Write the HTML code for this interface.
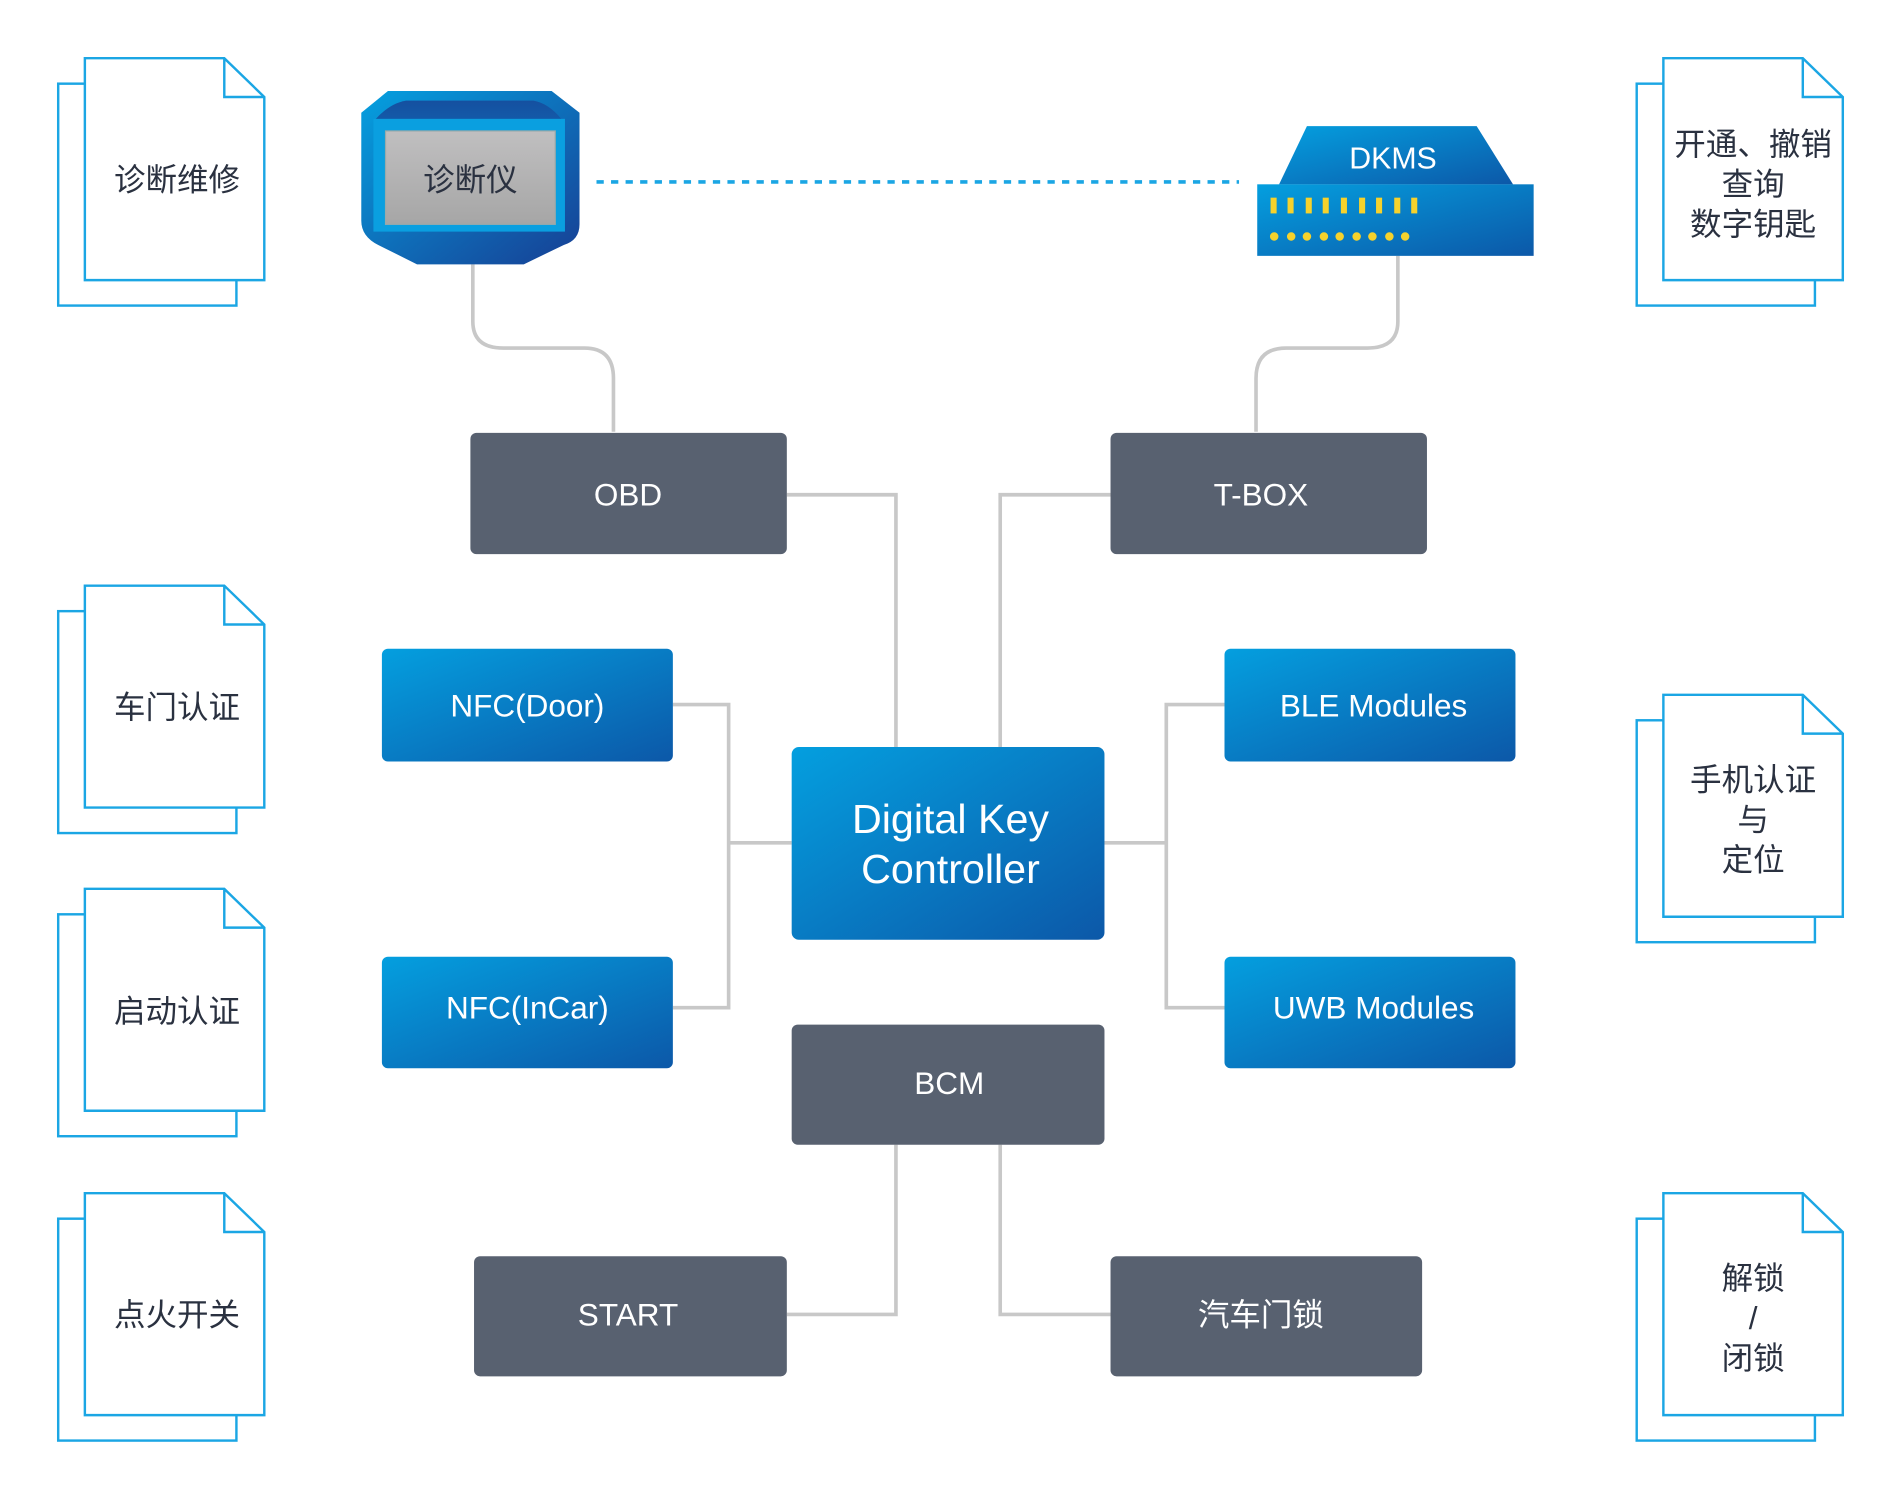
<!DOCTYPE html>
<html><head><meta charset="utf-8"><style>
html,body{margin:0;padding:0;background:#fff;}
svg{display:block;}
text{font-family:"Liberation Sans","Noto Sans CJK SC",sans-serif;}
</style></head><body>
<svg width="1901" height="1500" viewBox="0 0 1568 1237" preserveAspectRatio="none" xmlns="http://www.w3.org/2000/svg">
<defs>
<linearGradient id="bl" x1="0" y1="0" x2="1" y2="1"><stop offset="0" stop-color="#049fdf"/><stop offset="1" stop-color="#0c58a8"/></linearGradient>
<linearGradient id="dev" x1="0" y1="0" x2="1" y2="1"><stop offset="0" stop-color="#05a0e0"/><stop offset="1" stop-color="#173f94"/></linearGradient>
<linearGradient id="devin" x1="0" y1="0" x2="0" y2="1"><stop offset="0" stop-color="#1550a0"/><stop offset="1" stop-color="#0a8ad2"/></linearGradient>
<linearGradient id="scr" x1="0" y1="0" x2="0" y2="1"><stop offset="0" stop-color="#c0bfc0"/><stop offset="1" stop-color="#a6a6a6"/></linearGradient>
<g id="doc" fill="#fff" stroke="#1ba6e4" stroke-width="2">
<rect x="-22" y="21" width="147" height="183"/>
<path d="M0 0 H115 L148 32 V183 H0 Z"/>
<path d="M115 0 V32 H148" fill="none"/>
</g>
</defs>
<g fill="none" stroke="#c8c8c8" stroke-width="3">
<path d="M390 218 V265 Q390 287 415 287 H482 Q506 287 506 312 V356"/>
<path d="M1153 211 V265 Q1153 287 1128 287 H1061 Q1036 287 1036 312 V356"/>
<path d="M649 408 H739 V616"/>
<path d="M916 408 H825 V616"/>
<path d="M555 581 H601 V831 H555 M601 695 H653"/>
<path d="M1010 581 H962 V831 H1010 M911 695 H962"/>
<path d="M739 944 V1084 H649 M825 944 V1084 H916"/>
</g>
<line x1="492" y1="150" x2="1022" y2="150" stroke="#1ba6e4" stroke-width="3" stroke-dasharray="6 6"/>
<g font-size="26" fill="#2a3140" text-anchor="middle">
<use href="#doc" x="70" y="48"/><text x="146" y="157">诊断维修</text>
<use href="#doc" x="70" y="483"/><text x="146" y="592">车门认证</text>
<use href="#doc" x="70" y="733"/><text x="146" y="843">启动认证</text>
<use href="#doc" x="70" y="984"/><text x="146" y="1093">点火开关</text>
<use href="#doc" x="1372" y="48"/><text x="1446" y="128">开通、撤销</text><text x="1446" y="161">查询</text><text x="1446" y="194">数字钥匙</text>
<use href="#doc" x="1372" y="573"/><text x="1446" y="652">手机认证</text><text x="1446" y="685">与</text><text x="1446" y="718">定位</text>
<use href="#doc" x="1372" y="984"/><text x="1446" y="1063">解锁</text><text x="1446" y="1096">/</text><text x="1446" y="1129">闭锁</text>
</g>
<path d="M320 75 H455 L478 93 V185 Q478 198 465 202 L432 218 H344 L312 202 Q298 195 298 182 V93 Z" fill="url(#dev)"/>
<path d="M335 83 H440 Q452 85 463 98 V175 H310 V98 Q322 85 335 83 Z" fill="url(#devin)"/>
<rect x="308" y="98" width="158" height="93" fill="#0a9fe0"/>
<rect x="318" y="108" width="140" height="77" fill="url(#scr)" stroke="#9aa" stroke-width="1"/>
<text x="388" y="157" font-size="26" fill="#2a3140" text-anchor="middle">诊断仪</text>
<path d="M1078 104 H1218 L1248 152 H1055 Z" fill="url(#bl)"/>
<rect x="1037" y="152" width="228" height="59" fill="url(#bl)"/>
<text x="1149" y="139" font-size="25" fill="#fff" text-anchor="middle">DKMS</text>
<g fill="#f6d22c">
<rect x="1048" y="163" width="5" height="13"/><rect x="1062" y="163" width="5" height="13"/><rect x="1077" y="163" width="5" height="13"/><rect x="1091" y="163" width="5" height="13"/><rect x="1106" y="163" width="5" height="13"/><rect x="1121" y="163" width="5" height="13"/><rect x="1135" y="163" width="5" height="13"/><rect x="1150" y="163" width="5" height="13"/><rect x="1164" y="163" width="5" height="13"/>
<circle cx="1051" cy="195" r="3.5"/><circle cx="1065" cy="195" r="3.5"/><circle cx="1078" cy="195" r="3.5"/><circle cx="1092" cy="195" r="3.5"/><circle cx="1105" cy="195" r="3.5"/><circle cx="1119" cy="195" r="3.5"/><circle cx="1132" cy="195" r="3.5"/><circle cx="1146" cy="195" r="3.5"/><circle cx="1159" cy="195" r="3.5"/>
</g>
<g fill="#586170">
<rect x="388" y="357" width="261" height="100" rx="5"/>
<rect x="916" y="357" width="261" height="100" rx="5"/>
<rect x="653" y="845" width="258" height="99" rx="5"/>
<rect x="391" y="1036" width="258" height="99" rx="5"/>
<rect x="916" y="1036" width="257" height="99" rx="5"/>
</g>
<g fill="url(#bl)">
<rect x="315" y="535" width="240" height="93" rx="5"/>
<rect x="315" y="789" width="240" height="92" rx="5"/>
<rect x="1010" y="535" width="240" height="93" rx="5"/>
<rect x="1010" y="789" width="240" height="92" rx="5"/>
<rect x="653" y="616" width="258" height="159" rx="6"/>
</g>
<g fill="#fff" font-size="26" text-anchor="middle">
<text x="518" y="417">OBD</text>
<text x="1040" y="417">T-BOX</text>
<text x="783" y="902">BCM</text>
<text x="518" y="1093">START</text>
<text x="1040" y="1093">汽车门锁</text>
<text x="435" y="591">NFC(Door)</text>
<text x="435" y="840">NFC(InCar)</text>
<text x="1133" y="591">BLE Modules</text>
<text x="1133" y="840">UWB Modules</text>
<text x="784" y="687" font-size="34">Digital Key</text>
<text x="784" y="728" font-size="34">Controller</text>
</g>
</svg>
</body></html>
